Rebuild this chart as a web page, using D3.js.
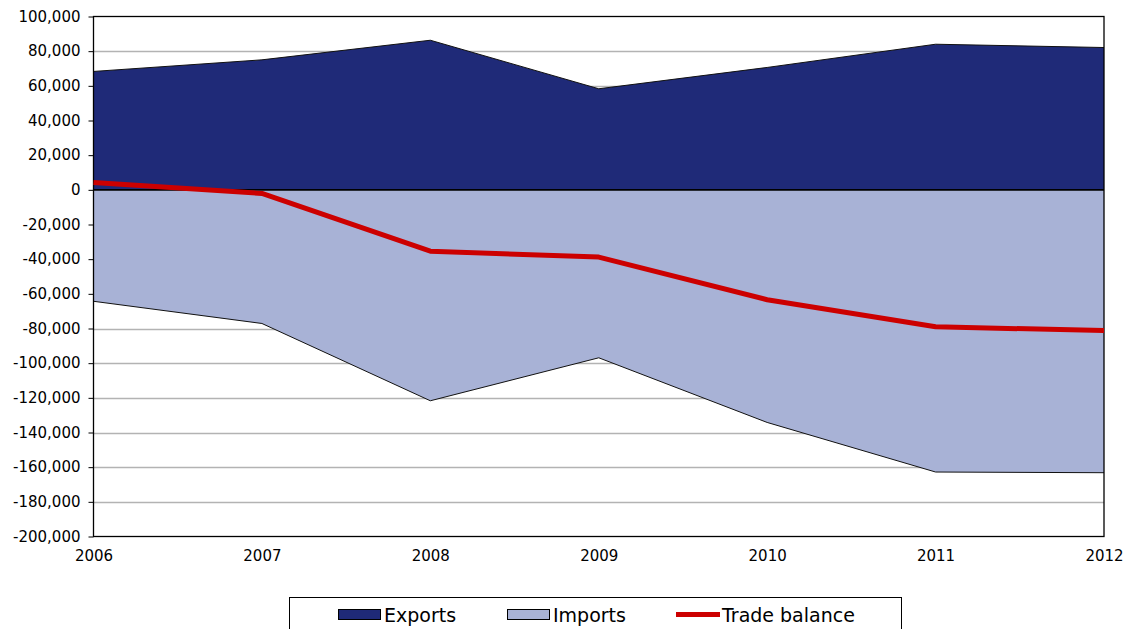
<!DOCTYPE html>
<html>
<head>
<meta charset="utf-8">
<script src="https://cdn.jsdelivr.net/npm/d3@7/dist/d3.min.js"></script>
<style>
  html, body { margin: 0; padding: 0; background: #fff; }
  svg { display: block; font-family: "DejaVu Sans", Verdana, sans-serif; }
</style>
</head>
<body>
<svg id="chart" width="1125" height="629"></svg>
<script>
// Trade figures by year
const years = ["2006", "2007", "2008", "2009", "2010", "2011", "2012"];
const exportsVals = [68300, 75000, 86300, 58300, 70600, 84000, 82100];
const importsVals = [-64300, -77100, -121700, -96900, -134200, -162800, -163200];
const balanceVals = [4200, -2100, -35400, -38800, -63400, -79000, -81200];
const yTicks = [100000, 80000, 60000, 40000, 20000, 0, -20000, -40000, -60000, -80000,
  -100000, -120000, -140000, -160000, -180000, -200000];

const svg = d3.select("#chart");
const plotLeft = 93.5, plotRight = 1104, plotTop = 16.5, plotBottom = 536.5;

const x = d3.scalePoint().domain(years).range([plotLeft, plotRight]);
const y = d3.scaleLinear().domain([-200000, 100000]).range([plotBottom, plotTop]);
// thousands separator with a plain hyphen for negatives
const fmt = d => d3.format(",")(d).replace("\u2212", "-");

// horizontal gridlines
svg.append("g")
  .selectAll("line")
  .data(yTicks.filter(t => t !== 0 && t !== -200000 && t !== 100000))
  .join("line")
  .attr("x1", plotLeft).attr("x2", plotRight)
  .attr("y1", d => Math.round(y(d)) + 0.5).attr("y2", d => Math.round(y(d)) + 0.5)
  .attr("stroke", "#b3b3b3").attr("stroke-width", 1.5);

// areas from the zero line
const area = d3.area()
  .x((d, i) => x(years[i]))
  .y0(y(0))
  .y1(d => y(d));
const outline = d3.line().x((d, i) => x(years[i])).y(d => y(d));

svg.append("path").datum(importsVals)
  .attr("d", area).attr("fill", "#a8b2d6");
svg.append("path").datum(importsVals)
  .attr("d", outline).attr("fill", "none").attr("stroke", "#111").attr("stroke-width", 1);

svg.append("path").datum(exportsVals)
  .attr("d", area).attr("fill", "#1f2a78");
svg.append("path").datum(exportsVals)
  .attr("d", outline).attr("fill", "none").attr("stroke", "#111").attr("stroke-width", 1);

// zero line
svg.append("line")
  .attr("x1", plotLeft).attr("x2", plotRight)
  .attr("y1", y(0)).attr("y2", y(0))
  .attr("stroke", "#000").attr("stroke-width", 1.8);

// frame
svg.append("rect")
  .attr("x", plotLeft).attr("y", plotTop)
  .attr("width", plotRight - plotLeft).attr("height", plotBottom - plotTop)
  .attr("fill", "none").attr("stroke", "#000").attr("stroke-width", 1.3);

// trade balance line
svg.append("path").datum(balanceVals)
  .attr("d", outline).attr("fill", "none")
  .attr("stroke", "#cc0000").attr("stroke-width", 5).attr("stroke-linejoin", "round");

// y axis
const yAxis = d3.axisLeft(y).tickValues(yTicks).tickSize(5).tickPadding(8).tickFormat(fmt);
const gy = svg.append("g").attr("transform", `translate(${plotLeft},0)`).call(yAxis);
gy.select(".domain").remove();
gy.selectAll(".tick line").attr("stroke", "#000");
gy.selectAll(".tick text").attr("font-size", 15).attr("fill", "#000")
  .attr("font-family", "DejaVu Sans, Verdana, sans-serif");

// x axis
const xAxis = d3.axisBottom(x).tickSize(0).tickPadding(14);
const gx = svg.append("g").attr("transform", `translate(0,${plotBottom})`).call(xAxis);
gx.select(".domain").remove();
gx.selectAll(".tick text").attr("font-size", 15).attr("fill", "#000")
  .attr("font-family", "DejaVu Sans, Verdana, sans-serif");

// legend
const lg = svg.append("g");
lg.append("rect").attr("x", 289.5).attr("y", 597.5).attr("width", 612).attr("height", 45)
  .attr("fill", "#fff").attr("stroke", "#000").attr("stroke-width", 1);

const legendItems = [
  { name: "Exports", type: "box", color: "#1f2a78", x0: 338 },
  { name: "Imports", type: "box", color: "#a8b2d6", x0: 507 },
  { name: "Trade balance", type: "line", color: "#cc0000", x0: 676 }
];
legendItems.forEach(it => {
  if (it.type === "box") {
    lg.append("rect").attr("x", it.x0 + 0.5).attr("y", 609.5).attr("width", 42).attr("height", 10)
      .attr("fill", it.color).attr("stroke", "#000").attr("stroke-width", 1);
  } else {
    lg.append("line").attr("x1", it.x0).attr("x2", it.x0 + 44)
      .attr("y1", 614.5).attr("y2", 614.5)
      .attr("stroke", it.color).attr("stroke-width", 5);
  }
  lg.append("text").attr("x", it.x0 + 46).attr("y", 621.5)
    .attr("font-size", 19).attr("fill", "#000").text(it.name);
});
</script>
</body>
</html>
